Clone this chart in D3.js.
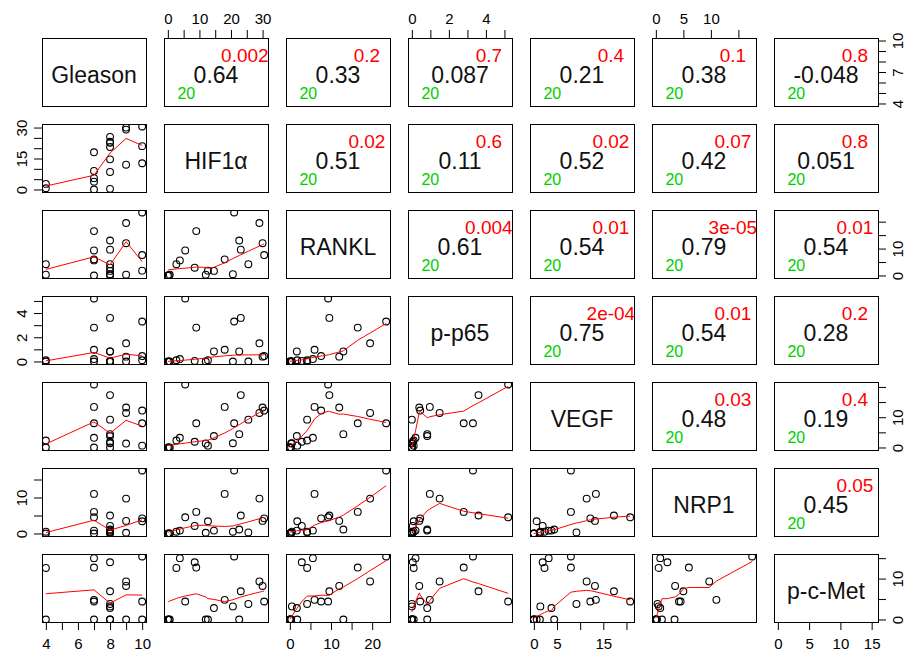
<!DOCTYPE html>
<html>
<head>
<meta charset="utf-8">
<script src="https://d3js.org/d3.v7.min.js"></script>
<style>
  body { margin: 0; background: #fff; }
  svg { display: block; font-family: "Liberation Sans", Arial, sans-serif; }
  .frame { fill: none; stroke: #000; stroke-width: 1px; }
  .pt { fill: none; stroke: #000; stroke-width: 1.1px; }
  .smooth { fill: none; stroke: #ff0000; stroke-width: 1px; }
  .tick line { stroke: #000; }
  .tick text { font-size: 15px; fill: #000; font-family: "Liberation Sans", Arial, sans-serif; }
  .diag, .corr { font-size: 23px; fill: #111; text-anchor: middle; }
  .pval { font-size: 19px; fill: #ff0000; text-anchor: middle; }
  .nobs { font-size: 16px; fill: #00cd00; text-anchor: start; }
</style>
</head>
<body>
<svg id="chart" width="905" height="653"></svg>
<script>
  // variaveis (uma linha por amostra, 20 amostras)
  const varNames = ["Gleason", "HIF1α", "RANKL", "p-p65", "VEGF", "NRP1", "p-c-Met"];
  const gleason = [4, 4, 7, 7, 7, 7, 7, 8, 8, 8, 8, 8, 8, 8, 9, 9, 9, 10, 10, 10];
  const hif1a   = [2.7, 0.6, 18.0, 9.0, 5.5, 3.8, 0.0, 25.5, 22.6, 23.1, 20.6, 14.6, 8.5, 0.3, 29.0, 30.0, 12.0, 30.5, 21.0, 12.7];
  const rankl   = [4.2, 0.3, 6.0, 16.5, 9.3, 5.6, 0.0, 4.2, 13.0, 9.6, 0.5, 1.7, 2.9, 0.0, 19.5, 12.0, 0.3, 7.6, 23.4, 1.8];
  const pp65    = [0.1, 0.0, 0.97, 2.8, 5.2, 0.2, 0.0, 0.0, 0.83, 3.6, 0.0, 0.83, 0.05, 0.0, 1.5, 0.4, 0.0, 0.45, 3.3, 0.1];
  const vegf    = [2.3, 0.0, 13.4, 8.0, 20.8, 3.2, 0.0, 9.2, 4.4, 17.3, 1.4, 3.8, 1.9, 0.0, 11.4, 13.2, 1.3, 12.2, 8.0, 0.6];
  const nrp1    = [0.5, 0.0, 11.0, 6.0, 4.5, 0.8, 0.0, 0.3, 1.1, 5.0, 0.5, 0.8, 2.1, 0.0, 9.7, 3.5, 0.2, 4.2, 17.5, 3.4];
  const pcMet   = [12.6, 0.0, 4.8, 12.7, 4.4, 15.0, 0.0, 3.8, 0.0, 6.9, 3.2, 2.8, 14.0, 0.0, 9.3, 8.2, 0.0, 4.4, 15.4, 0.0];
  const columns = [gleason, hif1a, rankl, pp65, vegf, nrp1, pcMet];

  // ticks e rotulos dos eixos
  const tickValues = [[4, 5, 6, 7, 8, 9, 10], [0, 5, 10, 15, 20, 25, 30], [0, 5, 10, 15, 20],
                      [0, 1, 2, 3, 4, 5], [0, 5, 10, 15, 20], [0, 5, 10, 15], [0, 5, 10, 15]];
  const hLabels = [[4, 6, 8, 10], [0, 10, 20, 30], [0, 10, 20], [0, 2, 4], [0, 5, 15], [0, 5, 10], [0, 5, 10, 15]];
  const vLabels = [[4, 7, 10], [0, 15, 30], [0, 10], [0, 2, 4], [0, 10], [0, 10], [0, 10]];

  // painel superior: correlacao, p-valor e n (linha a linha)
  const corrLabels = ["0.64", "0.33", "0.087", "0.21", "0.38", "-0.048",
                      "0.51", "0.11", "0.52", "0.42", "0.051",
                      "0.61", "0.54", "0.79", "0.54",
                      "0.75", "0.54", "0.28",
                      "0.48", "0.19",
                      "0.45"];
  const pLabels = ["0.002", "0.2", "0.7", "0.4", "0.1", "0.8",
                   "0.02", "0.6", "0.02", "0.07", "0.8",
                   "0.004", "0.01", "3e-05", "0.01",
                   "2e-04", "0.01", "0.2",
                   "0.03", "0.4",
                   "0.05"];
  const nLabel = "20";

  // layout
  const panelW = 104, panelH = 68, gap = 18;
  const marginLeft = 42, marginTop = 38;
  const nv = varNames.length;
  const colX = j => marginLeft + j * (panelW + gap);
  const rowY = i => marginTop + i * (panelH + gap);

  // dominio com 4% de folga (como o R)
  const domains = columns.map(v => {
    const [lo, hi] = d3.extent(v);
    const pad = 0.04 * (hi - lo);
    return [lo - pad, hi + pad];
  });
  const xScale = k => d3.scaleLinear().domain(domains[k]).range([0, panelW]);
  const yScale = k => d3.scaleLinear().domain(domains[k]).range([panelH, 0]);

  // lowess (mesmo algoritmo do clowess do R)
  function lowest(x, y, n, xs, nleft, nright, w, userw, rw) {
    const range = x[n] - x[1];
    const h = Math.max(xs - x[nleft], x[nright] - xs);
    const h9 = 0.999 * h, h1 = 0.001 * h;
    let a = 0, j = nleft;
    while (j <= n) {
      w[j] = 0;
      const r = Math.abs(x[j] - xs);
      if (r <= h9) {
        if (r <= h1) w[j] = 1;
        else w[j] = Math.pow(1 - Math.pow(r / h, 3), 3);
        if (userw) w[j] *= rw[j];
        a += w[j];
      } else if (x[j] > xs) break;
      j++;
    }
    const nrt = j - 1;
    if (a <= 0) return null;
    for (j = nleft; j <= nrt; j++) w[j] /= a;
    if (h > 0) {
      a = 0;
      for (j = nleft; j <= nrt; j++) a += w[j] * x[j];
      let b = xs - a, c = 0;
      for (j = nleft; j <= nrt; j++) c += w[j] * (x[j] - a) * (x[j] - a);
      if (Math.sqrt(c) > 0.001 * range) {
        b /= c;
        for (j = nleft; j <= nrt; j++) w[j] *= (b * (x[j] - a) + 1);
      }
    }
    let ys = 0;
    for (j = nleft; j <= nrt; j++) ys += w[j] * y[j];
    return ys;
  }

  function lowess(xIn, yIn, f = 2 / 3, nsteps = 3) {
    const n = xIn.length;
    const order = d3.range(n).sort((a, b) => (xIn[a] - xIn[b]) || (a - b));
    const x = [0].concat(order.map(k => xIn[k]));
    const y = [0].concat(order.map(k => yIn[k]));
    const ys = new Array(n + 1).fill(0);
    const rw = new Array(n + 1).fill(1);
    const res = new Array(n + 1).fill(0);
    const w = new Array(n + 1).fill(0);
    const delta = 0.01 * (x[n] - x[1]);
    const ns = Math.max(2, Math.min(n, Math.floor(f * n + 1e-7)));
    let iter = 1;
    while (iter <= nsteps + 1) {
      let nleft = 1, nright = ns, last = 0, i = 1;
      for (;;) {
        if (nright < n) {
          const d1 = x[i] - x[nleft], d2 = x[nright + 1] - x[i];
          if (d1 > d2) { nleft++; nright++; continue; }
        }
        const fit = lowest(x, y, n, x[i], nleft, nright, w, iter > 1, rw);
        ys[i] = fit === null ? y[i] : fit;
        if (last < i - 1) {
          const denom = x[i] - x[last];
          for (let j = last + 1; j < i; j++) {
            const alpha = (x[j] - x[last]) / denom;
            ys[j] = alpha * ys[i] + (1 - alpha) * ys[last];
          }
        }
        last = i;
        const cut = x[last] + delta;
        for (i = last + 1; i <= n; i++) {
          if (x[i] > cut) break;
          if (x[i] === x[last]) { ys[i] = ys[last]; last = i; }
        }
        i = Math.max(last + 1, i - 1);
        if (last >= n) break;
      }
      let sc = 0;
      for (let k = 1; k <= n; k++) { res[k] = y[k] - ys[k]; sc += Math.abs(res[k]); }
      sc /= n;
      if (iter > nsteps) break;
      const sorted = res.slice(1).map(Math.abs).sort((a, b) => a - b);
      const m1 = Math.floor(n / 2);
      const cmad = n % 2 === 0 ? 3 * (sorted[m1] + sorted[n - m1 - 1]) : 6 * sorted[m1];
      if (cmad < 1e-7 * sc) break;
      const c9 = 0.999 * cmad, c1 = 0.001 * cmad;
      for (let k = 1; k <= n; k++) {
        const r = Math.abs(res[k]);
        rw[k] = r <= c1 ? 1 : r <= c9 ? Math.pow(1 - Math.pow(r / cmad, 2), 2) : 0;
      }
      iter++;
    }
    return x.slice(1).map((xv, k) => [xv, ys[k + 1]]);
  }

  const svg = d3.select("#chart");
  const defs = svg.append("defs");
  let corrIdx = 0;

  for (let i = 0; i < nv; i++) {
    for (let j = 0; j < nv; j++) {
      const g = svg.append("g").attr("transform", `translate(${colX(j)},${rowY(i)})`);

      if (i === j) {
        // nome da variavel na diagonal
        g.append("text").attr("class", "diag")
          .attr("x", panelW / 2).attr("y", 44.5)
          .text(varNames[i]);
      } else if (j > i) {
        // correlacao, p-valor e n
        g.append("text").attr("class", "corr")
          .attr("x", panelW / 2).attr("y", 44.5)
          .text(corrLabels[corrIdx]);
        g.append("text").attr("class", "pval")
          .attr("x", panelW * 0.84 / 1.08).attr("y", 23.5)
          .text(pLabels[corrIdx]);
        g.append("text").attr("class", "nobs")
          .attr("x", panelW * 0.14 / 1.08).attr("y", 61)
          .text(nLabel);
        corrIdx++;
      } else {
        // dispersao + lowess
        const xs = xScale(j), ys = yScale(i);
        const clipId = `clip-${i}-${j}`;
        defs.append("clipPath").attr("id", clipId)
          .append("rect").attr("width", panelW).attr("height", panelH);
        const inner = g.append("g").attr("clip-path", `url(#${clipId})`);
        const pts = columns[j].map((v, k) => [v, columns[i][k]]);
        inner.selectAll("circle").data(pts).join("circle")
          .attr("class", "pt")
          .attr("cx", d => xs(d[0]))
          .attr("cy", d => ys(d[1]))
          .attr("r", 3.4);
        const fit = lowess(columns[j], columns[i]);
        inner.append("path").attr("class", "smooth")
          .attr("d", d3.line().x(d => xs(d[0])).y(d => ys(d[1]))(fit));
      }

      g.append("rect").attr("class", "frame")
        .attr("x", 0.5).attr("y", 0.5)
        .attr("width", panelW).attr("height", panelH);
    }
  }

  // eixos alternados, como no pairs() do R
  const fmt = labels => d => labels.includes(d) ? d : "";

  for (let j = 0; j < nv; j++) {
    if (j % 2 === 1) {
      svg.append("g")
        .attr("transform", `translate(${colX(j)},${rowY(0)})`)
        .call(d3.axisTop(xScale(j)).tickValues(tickValues[j]).tickSize(8).tickPadding(6).tickFormat(fmt(hLabels[j])))
        .call(a => a.select(".domain").remove());
    } else {
      svg.append("g")
        .attr("transform", `translate(${colX(j)},${rowY(nv - 1) + panelH})`)
        .call(d3.axisBottom(xScale(j)).tickValues(tickValues[j]).tickSize(8).tickPadding(8).tickFormat(fmt(hLabels[j])))
        .call(a => a.select(".domain").remove());
    }
  }

  for (let i = 0; i < nv; i++) {
    const onLeft = i % 2 === 1;
    const axis = onLeft ? d3.axisLeft(yScale(i)) : d3.axisRight(yScale(i));
    const ax = svg.append("g")
      .attr("transform", `translate(${onLeft ? colX(0) : colX(nv - 1) + panelW},${rowY(i)})`)
      .call(axis.tickValues(tickValues[i]).tickSize(8).tickFormat(fmt(vLabels[i])))
      .call(a => a.select(".domain").remove());
    // rotulos verticais
    ax.selectAll(".tick text")
      .attr("x", null).attr("dy", null)
      .attr("text-anchor", "middle")
      .attr("dominant-baseline", "central")
      .attr("transform", `translate(${onLeft ? -21 : 19.5},0) rotate(-90)`);
  }
</script>
</body>
</html>
